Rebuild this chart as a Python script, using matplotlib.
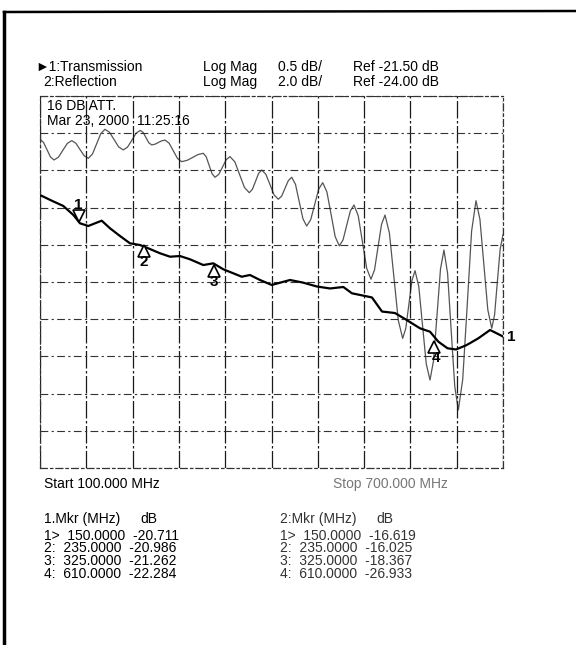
import matplotlib
matplotlib.use('Agg')
import matplotlib.pyplot as plt
from matplotlib.transforms import offset_copy
from matplotlib.lines import Line2D
import numpy as np

plt.rcParams['font.family'] = ['Liberation Sans', 'DejaVu Sans']

# sweep
start_mhz = 100.0
stop_mhz = 700.0

# trace 1 : transmission, 0.5 dB/div, ref -21.50 dB (centre line)
t_freq = [100.0, 115.2, 130.2, 143.2, 151.8, 162.6, 171.3, 180.0, 190.7, 203.7,
          216.6, 229.6, 240.3, 255.5, 268.5, 281.4, 294.4, 311.6, 324.6, 337.5,
          350.5, 361.4, 372.1, 385.1, 400.3, 424.0, 441.2, 458.6, 475.8, 493.1,
          504.3, 521.2, 530.2, 543.2, 560.0, 575.2, 592.4, 605.4, 616.2, 628.1,
          639.1, 653.0, 668.0, 683.2, 696.1, 700.0]
t_db = [-20.331, -20.407, -20.478, -20.599, -20.711, -20.747, -20.711, -20.676, -20.778, -20.882,
        -20.980, -21.003, -21.047, -21.114, -21.160, -21.151, -21.195, -21.272, -21.249, -21.329,
        -21.383, -21.429, -21.406, -21.473, -21.540, -21.473, -21.509, -21.560, -21.587, -21.567,
        -21.652, -21.688, -21.708, -21.897, -21.917, -22.011, -22.122, -22.168, -22.302, -22.391,
        -22.407, -22.347, -22.257, -22.145, -22.212, -22.233]

# trace 2 : reflection, 2.0 dB/div, ref -24.00 dB (centre line)
r_freq = [100.0, 104.5, 109.1, 113.6, 118.1, 123.9, 129.6, 135.4, 141.1, 146.5,
          151.9, 157.2, 162.6, 168.0, 173.4, 178.8, 184.2, 190.1, 196.1, 202.0,
          207.9, 213.4, 219.0, 224.5, 230.0, 233.7, 237.4, 241.1, 244.8, 249.1,
          253.4, 257.7, 262.0, 267.4, 272.8, 278.2, 283.6, 290.6, 297.6, 304.6,
          311.6, 315.4, 319.2, 323.0, 326.8, 331.7, 336.5, 341.4, 346.2, 352.5,
          358.7, 365.0, 371.2, 375.2, 379.3, 383.3, 387.3, 392.7, 398.1, 403.4,
          408.8, 413.2, 417.5, 421.9, 426.2, 431.1, 435.9, 440.8, 445.6, 450.8,
          456.0, 461.2, 466.4, 471.8, 477.2, 482.5, 487.9, 492.7, 497.4, 502.2,
          506.9, 512.4, 517.9, 523.4, 528.9, 533.5, 538.0, 542.6, 547.1, 552.8,
          558.6, 564.3, 570.0, 574.0, 578.0, 582.0, 586.0, 590.9, 595.7, 600.6,
          605.4, 609.9, 614.5, 619.0, 623.5, 628.2, 632.8, 637.5, 642.1, 647.8,
          653.6, 659.3, 665.0, 670.1, 675.2, 680.3, 685.4, 689.1, 692.7, 696.4,
          700.0]
r_db = [-16.33, -16.49, -16.89, -17.28, -17.44, -17.29, -16.92, -16.55, -16.40, -16.54,
        -16.88, -17.21, -17.35, -17.12, -16.57, -16.02, -15.79, -15.95, -16.35, -16.74,
        -16.90, -16.75, -16.38, -16.00, -15.85, -15.96, -16.24, -16.52, -16.63, -16.59,
        -16.50, -16.41, -16.37, -16.54, -16.95, -17.36, -17.53, -17.46, -17.31, -17.15,
        -17.08, -17.27, -17.73, -18.18, -18.37, -18.21, -17.82, -17.42, -17.26, -17.54,
        -18.23, -18.92, -19.20, -19.02, -18.59, -18.16, -17.98, -18.21, -18.77, -19.32,
        -19.55, -19.38, -18.96, -18.54, -18.37, -18.75, -19.68, -20.61, -20.99, -20.65,
        -19.83, -19.00, -18.66, -19.16, -20.36, -21.56, -22.06, -21.74, -20.96, -20.18,
        -19.86, -20.44, -21.86, -23.27, -23.85, -23.35, -22.13, -20.90, -20.40, -21.37,
        -23.72, -26.06, -27.03, -26.50, -25.21, -23.92, -23.39, -24.25, -26.33, -28.41,
        -29.27, -28.25, -25.78, -23.30, -22.28, -23.54, -26.58, -29.62, -30.88, -29.24,
        -25.26, -21.27, -19.63, -20.63, -23.06, -25.49, -26.49, -25.76, -23.98, -22.20,
        -21.47]

# markers
mkr_num = [1, 2, 3, 4]
mkr_freq = [150.0, 235.0, 325.0, 610.0]
mkr_trans = [-20.711, -20.986, -21.262, -22.284]
mkr_refl = [-16.619, -16.025, -18.367, -26.933]

W, H = 576, 645
fig = plt.figure(figsize=(5.76, 6.45), dpi=100)


def fx(px):
    return px / W


def fy(py):
    return 1 - py / H


ax = fig.add_axes([fx(40), fy(468), fx(463), 372 / H])
ax2 = ax.twinx()
ax.set_zorder(ax2.get_zorder() + 1)
ax.patch.set_visible(False)

ax.set_xlim(start_mhz, stop_mhz)
ax.set_ylim(-24.0, -19.0)
ax2.set_ylim(-34.0, -14.0)

ax.set_xticks(np.arange(start_mhz, stop_mhz + 1, 60))
ax.set_yticks(np.arange(-24.0, -18.99, 0.5))
ax.grid(axis='x', color='#1a1a1a', lw=0.9, ls=(0, (14, 2, 2, 2)))
ax.grid(axis='y', color='#333333', lw=0.8, ls=(0, (7, 3, 2, 3)))
for a in (ax, ax2):
    a.tick_params(length=0, labelleft=False, labelbottom=False, labelright=False)
    for s in a.spines.values():
        s.set_linestyle((0, (6, 3, 2, 3)))
        s.set_linewidth(0.8)
        s.set_color('#333333')

ax2.plot(r_freq, r_db, color='#555555', lw=0.9)
ax.plot(t_freq, t_db, color='black', lw=1.6)

# marker symbols on the transmission trace
for n, f, v in zip(mkr_num, mkr_freq, mkr_trans):
    if n == 1:
        tr = offset_copy(ax.transData, fig=fig, x=0, y=5, units='points')
        ax.plot([f], [v], marker='v', ms=8, mfc='white', mec='black', mew=1.2, transform=tr)
        tr = offset_copy(ax.transData, fig=fig, x=0, y=13, units='points')
        ax.text(f, v, str(n), transform=tr, ha='center', va='center', fontsize=11, fontweight='bold')
    else:
        tr = offset_copy(ax.transData, fig=fig, x=0, y=-5, units='points')
        ax.plot([f], [v], marker='^', ms=8, mfc='white', mec='black', mew=1.2, transform=tr)
        dx = 1.5 if n == 4 else 0
        tr = offset_copy(ax.transData, fig=fig, x=dx, y=-13, units='points')
        ax.text(f, v, str(n), transform=tr, ha='center', va='center', fontsize=11, fontweight='bold')

tr = offset_copy(ax.transData, fig=fig, x=3, y=0, units='points')
ax.text(t_freq[-1], t_db[-1], '1', transform=tr, ha='left', va='center',
        fontsize=11, fontweight='bold', clip_on=False)

# header
fs = 10
fig.text(fx(35), fy(67), '\u25ba1:Transmission', fontsize=fs, va='center')
fig.text(fx(43), fy(82), '2:Reflection', fontsize=fs, va='center')
fig.text(fx(203), fy(67), 'Log Mag', fontsize=fs, va='center')
fig.text(fx(203), fy(82), 'Log Mag', fontsize=fs, va='center')
fig.text(fx(278), fy(67), '0.5 dB/', fontsize=fs, va='center')
fig.text(fx(278), fy(82), '2.0 dB/', fontsize=fs, va='center')
fig.text(fx(353), fy(67), 'Ref -21.50 dB', fontsize=fs, va='center')
fig.text(fx(353), fy(82), 'Ref -24.00 dB', fontsize=fs, va='center')
fig.text(fx(47), fy(106), '16 DB ATT.', fontsize=fs, va='center')
fig.text(fx(47), fy(121), 'Mar 23, 2000  11:25:16', fontsize=fs, va='center')

fig.text(fx(44), fy(484), 'Start 100.000 MHz', fontsize=fs, va='center')
fig.text(fx(333), fy(484), 'Stop 700.000 MHz', fontsize=fs, va='center', color='#777777')

# marker tables
fig.text(fx(44), fy(519), '1.Mkr (MHz)', fontsize=fs, va='center')
fig.text(fx(140), fy(519), 'dB', fontsize=fs, va='center')
fig.text(fx(280), fy(519), '2:Mkr (MHz)', fontsize=fs, va='center', color='#333333')
fig.text(fx(376), fy(519), 'dB', fontsize=fs, va='center', color='#333333')
row_y = [536, 548.5, 561, 573.5]
for n, f, v1, v2, y in zip(mkr_num, mkr_freq, mkr_trans, mkr_refl, row_y):
    sep = '>' if n == 1 else ':'
    fig.text(fx(44), fy(y), f'{n}{sep}  {f:.4f}  {v1:.3f}', fontsize=fs, va='center')
    fig.text(fx(280), fy(y), f'{n}{sep}  {f:.4f}  {v2:.3f}', fontsize=fs, va='center', color='#333333')

# page border of the scan
fig.add_artist(Line2D([fx(4), fx(4)], [fy(12), fy(645)], color='black', lw=2.5))
fig.add_artist(Line2D([fx(4), fx(576)], [fy(12), fy(11)], color='black', lw=1.8))

fig.savefig('out.png', dpi=100)
